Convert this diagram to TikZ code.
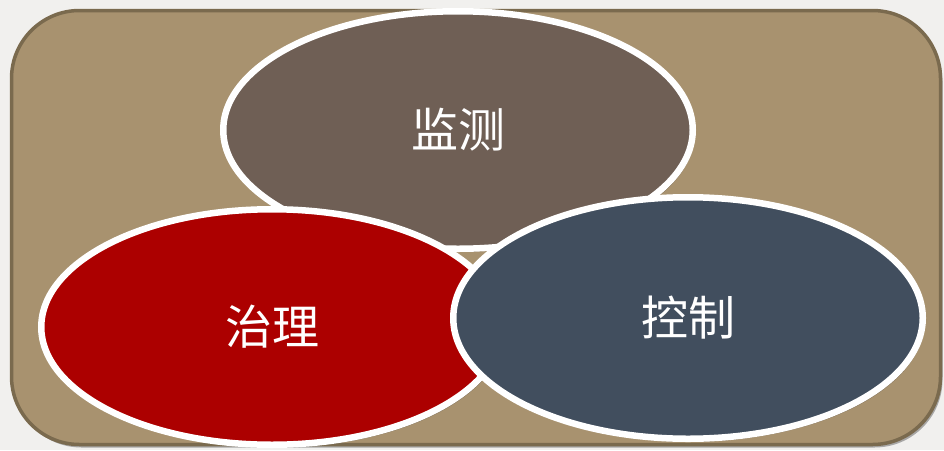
\documentclass[tikz,border=0pt]{standalone}
\usepackage{fontspec}
\newfontfamily\cjk{Noto Sans CJK SC}
\usetikzlibrary{shapes.geometric,shadows}
\definecolor{pagebg}{HTML}{F1F0EE}
\definecolor{panelfill}{HTML}{A8926F}
\definecolor{paneledge}{HTML}{7A6A4E}
\definecolor{monitorc}{HTML}{6F5F55}
\definecolor{governc}{HTML}{AC0000}
\definecolor{controlc}{HTML}{414E5E}
\tikzset{
  bubble/.style={ellipse, draw=white, line width=6.5pt, inner sep=0pt,
    text=white, font=\cjk\fontsize{47}{47}\selectfont,
    drop shadow={shadow xshift=2pt, shadow yshift=-3pt, opacity=0.3, fill=black}},
  panel/.style={fill=panelfill, draw=paneledge, line width=3.5pt, rounded corners=68pt,
    drop shadow={shadow xshift=2pt, shadow yshift=-3pt, opacity=0.3, fill=black}}
}
\begin{document}
\begin{tikzpicture}[x=1pt,y=-1pt]
\useasboundingbox (0,0) rectangle (944,450);
\fill[pagebg] (0,0) rectangle (944,450);
\path[panel] (11.5,10.5) rectangle (940.5,444.5);
\node[bubble, fill=monitorc, minimum width=469.5pt, minimum height=237.5pt] (monitor) at (458,130) {监测};
\node[bubble, fill=governc, minimum width=461.5pt, minimum height=235.5pt] (govern) at (272,327) {治理};
\node[bubble, fill=controlc, minimum width=469.5pt, minimum height=241.5pt] (control) at (688,318) {控制};
\end{tikzpicture}
\end{document}
